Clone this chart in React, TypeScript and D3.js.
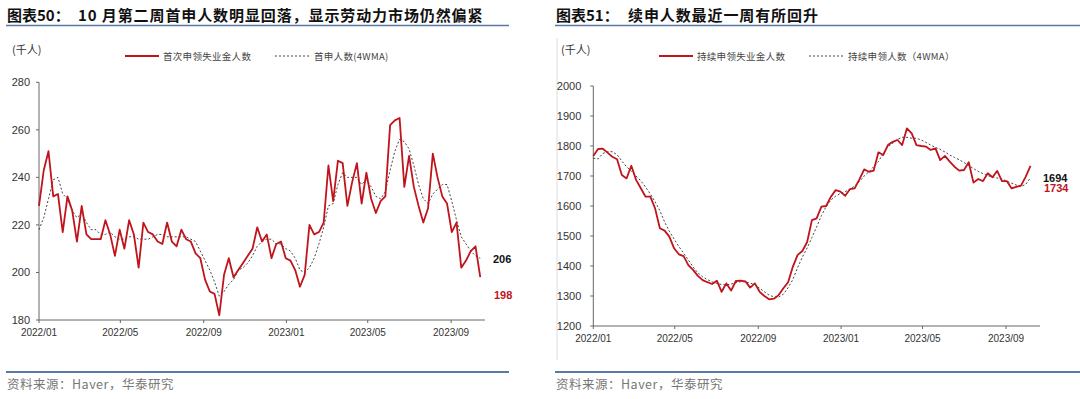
import React from "react";
import * as d3 from "d3";

// weekly, first week ending 2022-01-01
const startWeek = new Date(Date.UTC(2022, 0, 1));
const axisStart = new Date(Date.UTC(2022, 0, 1));
const axisEnd = new Date(Date.UTC(2023, 9, 21));
const tickMonths = ["2022/01", "2022/05", "2022/09", "2023/01", "2023/05", "2023/09"];

// 首次申领失业金人数（千人）
const initialClaims = [
  228, 243, 251, 232, 233, 217, 232, 226, 213, 228,
  216, 214, 214, 214, 222, 216, 207, 218, 210, 222,
  216, 202, 221, 217, 216, 213, 212, 221, 213, 211,
  218, 214, 213, 208, 206, 197, 192, 191, 182, 199,
  206, 198, 201, 204, 207, 210, 219, 213, 216, 206,
  212, 213, 206, 205, 201, 194, 199, 220, 216, 217,
  221, 245, 230, 247, 246, 228, 238, 246, 229, 242,
  231, 225, 230, 232, 262, 264, 265, 236, 249, 236,
  228, 221, 227, 250, 240, 232, 229, 217, 221, 202,
  205, 209, 211, 198,
];

// 首申人数(4WMA)
const initialClaims4wma = [
  218, 223, 231, 239, 240, 233, 231, 226, 223, 225,
  221, 218, 218, 216, 216, 217, 215, 214, 214, 215,
  215, 214, 214, 214, 215, 216, 216, 215, 215, 215,
  215, 215, 214, 213, 209, 205, 201, 196, 190, 192,
  195, 197, 201, 202, 204, 207, 211, 213, 214, 214,
  212, 212, 210, 209, 206, 201, 200, 202, 206, 212,
  219, 228, 229, 237, 242, 240, 240, 240, 237, 239,
  236, 232, 231, 234, 243, 251, 256, 255, 252, 245,
  237, 231, 229, 233, 235, 237, 237, 230, 222, 215,
  212, 209, 207, 206,
];

// 持续申领失业金人数（千人）
const continuingClaims = [
  1767, 1790, 1791, 1778, 1764, 1756, 1703, 1692, 1734, 1687,
  1659, 1631, 1631, 1592, 1526, 1518, 1498, 1459, 1439, 1433,
  1403, 1387, 1367, 1353, 1346, 1340, 1351, 1314, 1342, 1318,
  1350, 1351, 1349, 1328, 1342, 1314, 1300, 1289, 1291, 1303,
  1326, 1346, 1398, 1437, 1450, 1480, 1553, 1559, 1598, 1600,
  1631, 1653, 1648, 1634, 1656, 1659, 1689, 1722, 1714, 1718,
  1779, 1770, 1803, 1814, 1820, 1803, 1859, 1842, 1803, 1800,
  1798, 1787, 1792, 1753, 1767, 1748, 1731, 1718, 1720, 1746,
  1678, 1690, 1683, 1709, 1696, 1717, 1683, 1683, 1659, 1664,
  1668, 1698, 1734,
];

// 持续申领人数（4WMA）
const continuingClaims4wma = [
  1759, 1757, 1775, 1781, 1781, 1771, 1750, 1731, 1716, 1700,
  1684, 1663, 1640, 1614, 1585, 1547, 1516, 1490, 1465, 1443,
  1420, 1397, 1377, 1364, 1355, 1347, 1342, 1338, 1337, 1340,
  1344, 1348, 1347, 1343, 1338, 1326, 1314, 1303, 1297, 1296,
  1306, 1328, 1355, 1395, 1430, 1460, 1495, 1530, 1568, 1598,
  1620, 1633, 1642, 1648, 1656, 1667, 1681, 1700, 1714, 1731,
  1748, 1776, 1798, 1809, 1822, 1829, 1829, 1826, 1826, 1820,
  1812, 1803, 1795, 1789, 1780, 1770, 1762, 1754, 1745, 1735,
  1725, 1715, 1708, 1701, 1697, 1693, 1690, 1683, 1676, 1670,
  1665, 1672, 1694,
];

const leftYTicks = [180, 200, 220, 240, 260, 280];
const rightYTicks = [1200, 1300, 1400, 1500, 1600, 1700, 1800, 1900, 2000];

const RED = "#c0141c";
const BLUE = "#5a7aa6";
const SANS = "'Liberation Sans', Arial, 'Noto Sans CJK SC', sans-serif";
const CJK = "'Noto Sans CJK SC', 'Liberation Sans', sans-serif";

const parseMonth = d3.utcParse("%Y/%m");
const fmtMonth = d3.utcFormat("%Y/%m");

type PanelProps = {
  left: number;
  axisX0: number;
  axisX1: number;
  yTop: number;
  yBottom: number;
  yDomain: [number, number];
  yTicks: number[];
  yLabelGap: number;
  values: number[];
  avg: number[];
  title1: string;
  title2: string;
  title2X: number;
  legendA: string;
  legendB: string;
  legendAX: number;
  legendBX: number;
  lastOffsetRed: number;
  lastOffsetAvg: number;
  labelX: number;
  frame?: boolean;
};

function Panel(p: PanelProps) {
  const x = d3.scaleUtc().domain([axisStart, axisEnd]).range([p.axisX0, p.axisX1]);
  const y = d3.scaleLinear().domain(p.yDomain).range([p.yBottom, p.yTop]);
  const dates = (n: number) => d3.range(n).map((i) => d3.utcDay.offset(startWeek, 7 * i));
  const d1 = dates(p.values.length);
  const d2 = dates(p.avg.length);
  const line = d3
    .line<[Date, number]>()
    .x((d) => x(d[0]))
    .y((d) => y(d[1]));
  const redPath = line(d1.map((d, i) => [d, p.values[i]] as [Date, number])) || "";
  const avgPath = line(d2.map((d, i) => [d, p.avg[i]] as [Date, number])) || "";
  const xTicks = tickMonths.map((t) => parseMonth(t) as Date);
  const lastRed = p.values[p.values.length - 1];
  const lastAvg = p.avg[p.avg.length - 1];
  const right = p.left + (p.frame ? 526 : 502);

  return (
    <g>
      <text x={p.left} y={21} fontFamily={CJK} fontWeight="bold" fontSize={15} fill="#111">
        {p.title1}
      </text>
      <text x={p.title2X} y={21} fontFamily={CJK} fontWeight="bold" fontSize={15} letterSpacing={0.9} fill="#111">
        {p.title2}
      </text>
      <line x1={p.left - 1} x2={right} y1={25.5} y2={25.5} stroke={BLUE} strokeWidth={1.5} />
      {p.frame && <line x1={557} x2={557} y1={38} y2={360} stroke="#dcdcdc" strokeWidth={1} />}

      <text x={p.left + 5} y={54} fontFamily={CJK} fontSize={11} fill="#333">
        (千人)
      </text>

      <line x1={p.legendAX} x2={p.legendAX + 34} y1={56} y2={56} stroke={RED} strokeWidth={2} />
      <text x={p.legendAX + 38} y={59.5} fontFamily={CJK} fontSize={9.5} letterSpacing={0.3} fill="#444">
        {p.legendA}
      </text>
      <line x1={p.legendBX} x2={p.legendBX + 35} y1={56} y2={56} stroke="#444" strokeWidth={1} strokeDasharray="2,2" />
      <text x={p.legendBX + 39} y={59.5} fontFamily={CJK} fontSize={9.5} letterSpacing={0.3} fill="#444">
        {p.legendB}
      </text>

      {/* y axis */}
      <line x1={p.axisX0} x2={p.axisX0} y1={p.yTop} y2={p.yBottom} stroke="#666" strokeWidth={1} />
      {p.yTicks.map((t) => (
        <g key={t}>
          <line x1={p.axisX0 - 3} x2={p.axisX0} y1={y(t)} y2={y(t)} stroke="#666" />
          <text
            x={p.axisX0 - p.yLabelGap}
            y={y(t)}
            dy="0.35em"
            textAnchor="end"
            fontFamily={SANS}
            fontSize={11}
            fill="#333"
          >
            {t}
          </text>
        </g>
      ))}

      {/* x axis */}
      <line x1={p.axisX0} x2={p.axisX1} y1={p.yBottom} y2={p.yBottom} stroke="#666" strokeWidth={1} />
      {xTicks.map((t) => (
        <g key={t.getTime()}>
          <line x1={x(t)} x2={x(t)} y1={p.yBottom} y2={p.yBottom + 3} stroke="#666" />
          <text x={x(t)} y={p.yBottom + 16} textAnchor="middle" fontFamily={SANS} fontSize={10} fill="#333">
            {fmtMonth(t)}
          </text>
        </g>
      ))}

      <path d={avgPath} fill="none" stroke="#444" strokeWidth={1} strokeDasharray="2,2" />
      <path d={redPath} fill="none" stroke={RED} strokeWidth={1.8} strokeLinejoin="round" />

      <text x={p.labelX} y={y(lastAvg) + p.lastOffsetAvg} dy="0.35em" fontFamily={SANS} fontWeight="bold" fontSize={11} fill="#111">
        {lastAvg}
      </text>
      <text x={p.labelX + 1} y={y(lastAvg) + p.lastOffsetRed} dy="0.35em" fontFamily={SANS} fontWeight="bold" fontSize={11} fill={RED}>
        {lastRed}
      </text>

      <line x1={p.left - 1} x2={right} y1={372} y2={372} stroke={BLUE} strokeWidth={2} />
      <text x={p.left} y={389} fontFamily={CJK} fontSize={12.5} fill="#777" letterSpacing={0.5}>
        资料来源：Haver，华泰研究
      </text>
    </g>
  );
}

export default function App() {
  return (
    <svg
      width={1080}
      height={399}
      style={{ position: "absolute", left: 0, top: 0, background: "#fff" }}
    >
      <rect width={1080} height={399} fill="#fff" />
      <Panel
        left={7}
        axisX0={39}
        axisX1={485}
        yTop={82.3}
        yBottom={320}
        yDomain={[180, 280]}
        yTicks={leftYTicks}
        yLabelGap={9}
        values={initialClaims}
        avg={initialClaims4wma}
        title1="图表50："
        title2="10 月第二周首申人数明显回落，显示劳动力市场仍然偏紧"
        title2X={78}
        legendA="首次申领失业金人数"
        legendB="首申人数(4WMA)"
        legendAX={125}
        legendBX={275}
        lastOffsetAvg={1}
        lastOffsetRed={37}
        labelX={493}
      />
      <Panel
        left={556}
        axisX0={593.3}
        axisX1={1040}
        yTop={86}
        yBottom={326}
        yDomain={[1200, 2000]}
        yTicks={rightYTicks}
        yLabelGap={12}
        values={continuingClaims}
        avg={continuingClaims4wma}
        title1="图表51："
        title2="续申人数最近一周有所回升"
        title2X={628}
        legendA="持续申领失业金人数"
        legendB="持续申领人数（4WMA）"
        legendAX={659}
        legendBX={809}
        lastOffsetAvg={0}
        lastOffsetRed={10}
        labelX={1043}
        frame
      />
    </svg>
  );
}
